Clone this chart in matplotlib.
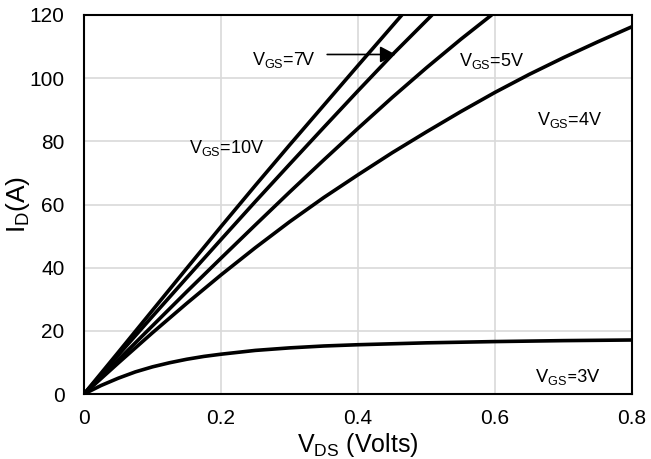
import matplotlib
matplotlib.use("Agg")
import matplotlib.pyplot as plt
import numpy as np

plt.rcParams['font.family'] = ['Liberation Sans', 'DejaVu Sans']
plt.rcParams['mathtext.fontset'] = 'custom'
plt.rcParams['mathtext.rm'] = 'Liberation Sans'
plt.rcParams['mathtext.it'] = 'Liberation Sans:italic'
plt.rcParams['mathtext.bf'] = 'Liberation Sans:bold'

# ---- data (VDS in volts, ID in amps) ----
vds_10 = [0.0, 0.05, 0.1, 0.15, 0.2, 0.25, 0.3, 0.35, 0.4, 0.464]
id_10 = [0.0, 13.2, 26.5, 39.8, 53.0, 66.0, 78.8, 91.4, 104.0, 120.0]

vds_7 = [0.0, 0.05, 0.1, 0.15, 0.2, 0.25, 0.3, 0.35, 0.4, 0.45, 0.508]
id_7 = [0.0, 12.3, 24.6, 36.8, 48.9, 60.9, 72.7, 84.4, 96.0, 107.4, 120.0]

vds_5 = [0.0, 0.05, 0.1, 0.15, 0.2, 0.25, 0.3, 0.35, 0.4, 0.45, 0.5, 0.55, 0.595]
id_5 = [0.0, 10.8, 21.6, 32.4, 43.0, 53.5, 63.9, 74.1, 84.1, 93.9, 103.3, 112.3, 120.0]

vds_4 = [0.0, 0.05, 0.1, 0.15, 0.2, 0.25, 0.3, 0.35, 0.4, 0.45, 0.5, 0.55, 0.6, 0.65, 0.7, 0.75, 0.8]
id_4 = [0.0, 9.8, 19.4, 28.7, 37.7, 46.3, 54.5, 62.2, 69.4, 76.4, 83.0, 89.4, 95.5, 101.2, 106.5, 111.5, 116.3]

vds_3 = [0.0, 0.025, 0.05, 0.075, 0.1, 0.125, 0.15, 0.175, 0.2, 0.25, 0.3, 0.35, 0.4, 0.5, 0.6, 0.7, 0.8]
id_3 = [0.0, 2.7, 5.0, 7.0, 8.6, 9.9, 11.0, 11.9, 12.6, 13.8, 14.6, 15.2, 15.6, 16.2, 16.6, 16.9, 17.1]

x_ticks = [0, 0.2, 0.4, 0.6, 0.8]
x_tick_labels = ["0", "0.2", "0.4", "0.6", "0.8"]
y_ticks = [0, 20, 40, 60, 80, 100, 120]

labels = [
    (r"V$_{\mathrm{GS}}$=10V", 0.154, 76.2),
    (r"V$_{\mathrm{GS}}$=7V", 0.245, 104.2),
    (r"V$_{\mathrm{GS}}$=5V", 0.548, 103.7),
    (r"V$_{\mathrm{GS}}$=4V", 0.662, 85.2),
    (r"V$_{\mathrm{GS}}$=3V", 0.659, 3.9),
]

fig = plt.figure(figsize=(6.51, 4.59), dpi=100)
ax = fig.add_axes([84/651, 65/459, 548/651, 379/459])

for xs, ys in [(vds_10, id_10), (vds_7, id_7), (vds_5, id_5), (vds_4, id_4), (vds_3, id_3)]:
    ax.plot(xs, ys, color='black', lw=2.6, solid_capstyle='round',
            solid_joinstyle='round', zorder=3)

ax.set_xlim(0, 0.8)
ax.set_ylim(0, 120)
ax.set_xticks(x_ticks)
ax.set_xticklabels(x_tick_labels)
ax.set_yticks(y_ticks)
ax.grid(True, color='#d9d9d9', lw=1.2)
ax.set_axisbelow(True)
for s in ax.spines.values():
    s.set_color('black')
    s.set_linewidth(1.5)
    s.set_zorder(4)
ax.tick_params(axis='both', length=0, labelsize=15)
ax.tick_params(axis='x', pad=11)
ax.tick_params(axis='y', pad=14)

ax.set_xlabel(r"V$_{\mathrm{DS}}$ (Volts)", fontsize=18)
ax.xaxis.label.set_va('baseline')
ax.xaxis.set_label_coords(0.5, -0.152)
ax.set_ylabel(r"I$_{\mathrm{D}}$(A)", fontsize=19)
ax.yaxis.label.set_va('center')
ax.yaxis.set_label_coords(-0.12, 0.5)

for txt, x, y in labels:
    fam = ['Lato', 'DejaVu Sans'] if '3V' in txt else ['Liberation Sans', 'DejaVu Sans']
    ax.text(x, y, txt, fontsize=13, ha='left', va='baseline', family=fam, zorder=5)

ax.annotate('', xy=(0.455, 107.5), xytext=(0.355, 107.5),
            arrowprops=dict(arrowstyle='-|>,head_length=0.95,head_width=0.5',
                            mutation_scale=10, color='black', lw=1.2,
                            shrinkA=0, shrinkB=0), zorder=5)

fig.savefig('out.png', dpi=100)
